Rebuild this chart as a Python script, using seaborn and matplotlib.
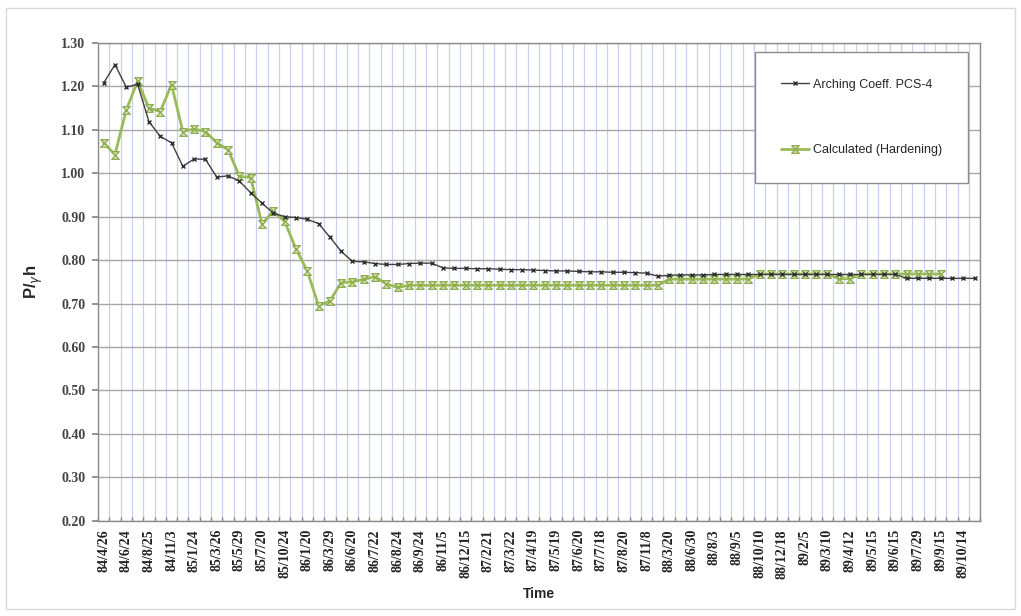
import numpy as np
import pandas as pd
import matplotlib
matplotlib.use("Agg")
import matplotlib.pyplot as plt
import seaborn as sns
from matplotlib.patches import Rectangle

# ---------------- data ----------------
tick_labels = ["84/4/26", "84/6/24", "84/8/25", "84/11/3", "85/1/24", "85/3/26", "85/5/29",
               "85/7/20", "85/10/24", "86/1/20", "86/3/29", "86/6/20", "86/7/22", "86/8/24",
               "86/9/24", "86/11/5", "86/12/15", "87/2/21", "87/3/22", "87/4/19", "87/5/19",
               "87/6/20", "87/7/18", "87/8/20", "87/11/8", "88/3/20", "88/6/30", "88/8/3",
               "88/9/5", "88/10/10", "88/12/18", "89/2/5", "89/3/10", "89/4/12", "89/5/15",
               "89/6/15", "89/7/29", "89/9/15", "89/10/14"]

arching = [1.208, 1.250, 1.198, 1.205, 1.119, 1.085, 1.070, 1.016, 1.033, 1.032,
           0.991, 0.994, 0.982, 0.955, 0.931, 0.908, 0.900, 0.898, 0.894, 0.884,
           0.853, 0.820, 0.797, 0.796, 0.792, 0.790, 0.790, 0.792, 0.793, 0.793,
           0.782, 0.781, 0.781, 0.780, 0.780, 0.779, 0.778, 0.778, 0.777, 0.776,
           0.775, 0.775, 0.774, 0.773, 0.773, 0.772, 0.772, 0.771, 0.770, 0.763,
           0.765, 0.766, 0.766, 0.766, 0.767, 0.767, 0.767, 0.767, 0.767, 0.767,
           0.767, 0.767, 0.767, 0.767, 0.767, 0.767, 0.767, 0.767, 0.767, 0.767,
           0.767, 0.758, 0.758, 0.758, 0.758, 0.758, 0.758, 0.758]

calculated = [1.070, 1.043, 1.146, 1.212, 1.150, 1.142, 1.204, 1.096, 1.102, 1.096,
              1.070, 1.054, 0.993, 0.990, 0.883, 0.913, 0.889, 0.826, 0.775, 0.695,
              0.706, 0.748, 0.750, 0.756, 0.762, 0.745, 0.737, 0.742, 0.742, 0.742,
              0.742, 0.742, 0.742, 0.742, 0.742, 0.742, 0.742, 0.742, 0.742, 0.742,
              0.742, 0.742, 0.742, 0.742, 0.742, 0.742, 0.742, 0.742, 0.742, 0.742,
              0.756, 0.756, 0.756, 0.756, 0.756, 0.756, 0.756, 0.756, 0.768, 0.768,
              0.768, 0.768, 0.768, 0.768, 0.768, 0.757, 0.757, 0.768, 0.768, 0.768,
              0.768, 0.768, 0.768, 0.768, 0.768]

series_names = ["Arching Coeff. PCS-4", "Calculated (Hardening)"]

# ---------------- plot ----------------
sns.set_theme(style="white")
plt.rcParams['font.family'] = ['Liberation Sans', 'DejaVu Sans']

fig = plt.figure(figsize=(10.21, 6.16), dpi=100)
ax = fig.add_axes([0.096, 0.1547, 0.864, 0.7756])

df_a = pd.DataFrame({"idx": np.arange(len(arching)), "val": arching})
df_c = pd.DataFrame({"idx": np.arange(len(calculated)), "val": calculated})

hourglass = [(-1, 1), (1, 1), (-1, -1), (1, -1), (-1, 1)]

sns.lineplot(data=df_c, x="idx", y="val", ax=ax, color="#9bbb59", linewidth=2.0,
             marker=hourglass, markersize=5.5, markerfacecolor="#d7e4bd",
             markeredgecolor="#8aab48", markeredgewidth=0.9, label=series_names[1], zorder=3)
sns.lineplot(data=df_a, x="idx", y="val", ax=ax, color="#404040", linewidth=1.0,
             marker="x", markersize=3.5, markeredgewidth=1.0, markeredgecolor="#303030",
             label=series_names[0], zorder=4)

n = len(arching)
ax.set_xlim(-0.5, n - 0.5)
ax.set_ylim(0.2, 1.3)

ax.set_xticks(np.arange(0, n, 2))
ax.set_xticklabels(tick_labels, rotation=90, fontsize=10, fontweight="bold",
                   family="Liberation Serif", color="#222222")
ax.set_xticks(np.arange(-0.5, n, 1), minor=True)
yt = np.round(np.arange(0.2, 1.31, 0.1), 2)
ax.set_yticks(yt)
ax.set_yticklabels([f"{v:.2f}" for v in yt], fontsize=10, fontweight="bold",
                   family="Liberation Serif", color="#444444")

ax.tick_params(axis="x", which="major", length=0, pad=6)
ax.tick_params(axis="x", which="minor", length=3, color="#888888", direction="in", bottom=True)
ax.tick_params(axis="y", which="major", length=4, color="#888888", direction="out", left=True, pad=5)

ax.grid(False)
ax.xaxis.grid(True, which="minor", color="#c8d0ee", linewidth=0.9)
ax.yaxis.grid(True, which="major", color="#a8a8a8", linewidth=1.0)
ax.set_axisbelow(True)

for s in ax.spines.values():
    s.set_color("#8c8c8c")
    s.set_linewidth(1.0)

ax.set_xlabel("Time", fontsize=10, fontweight="bold", labelpad=6)
ax.set_ylabel(r"P/$_{\gamma}$h", fontsize=12, fontweight="bold", labelpad=12)

handles, labels = ax.get_legend_handles_labels()
order = [labels.index(series_names[0]), labels.index(series_names[1])]
leg = ax.legend([handles[i] for i in order], [labels[i] for i in order],
                loc="upper left", bbox_to_anchor=(0.745, 0.98), borderaxespad=0,
                frameon=True, fontsize=9, handlelength=2.2, handletextpad=0.3,
                labelspacing=4.3, borderpad=2.1, fancybox=False,
                edgecolor="#8c8c8c", framealpha=1)
leg.get_frame().set_linewidth(1.0)

fig.patches.append(Rectangle((0.006, 0.012), 0.988, 0.975, transform=fig.transFigure,
                             fill=False, edgecolor="#d9d9d9", linewidth=1.0))

fig.savefig("out.png", dpi=100)
